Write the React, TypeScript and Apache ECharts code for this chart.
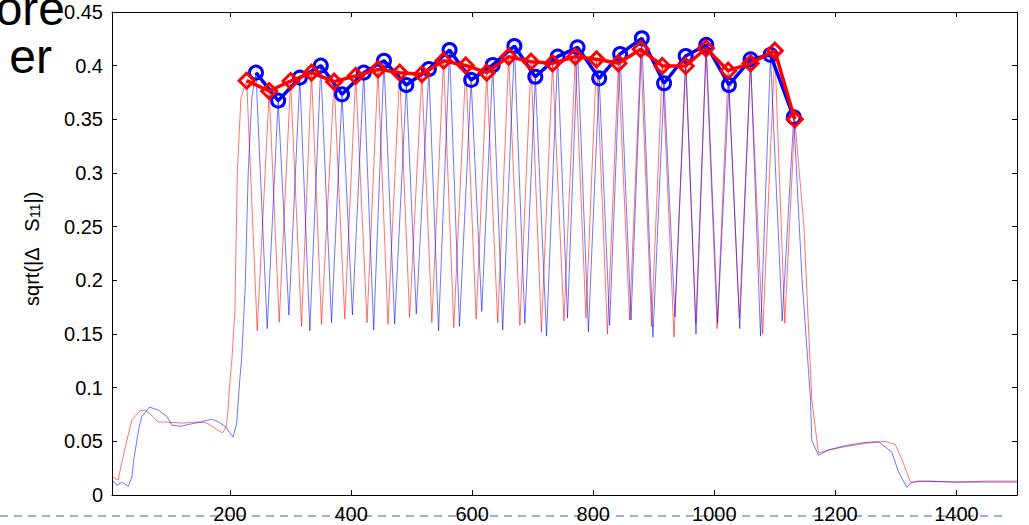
import React, { useEffect, useRef } from "react";
import * as echarts from "echarts";

// ---- axis ----
const X_MIN = 5;
const X_MAX = 1500;
const xTickValues = [200, 400, 600, 800, 1000, 1200, 1400];
const Y_MIN = 0;
const Y_MAX = 0.45;
const Y_STEP = 0.05;

// ---- red trace ----
const redHeadX = [5, 15, 27, 38, 52, 60, 73, 81, 96, 122, 145, 162, 184, 188, 194, 197, 200, 203, 208, 212, 218];
const redHeadY = [0.017, 0.014, 0.045, 0.07, 0.079, 0.079, 0.073, 0.068, 0.068, 0.067, 0.068, 0.067, 0.059, 0.058, 0.064, 0.082, 0.107, 0.126, 0.171, 0.3, 0.37];
const redPeakX = [227.5, 264.7, 300.0, 334.6, 371.9, 407.6, 444.4, 480.2, 516.9, 552.7, 589.4, 624.1, 660.3, 697.2, 732.8, 770.3, 805.4, 841.6, 878.5, 914.2, 952.7, 986.2, 1022.9, 1059.9, 1099.9, 1132.9];
const redPeakY = [0.386, 0.3764, 0.3857, 0.3935, 0.3851, 0.3904, 0.3966, 0.3935, 0.392, 0.4046, 0.4002, 0.3935, 0.4084, 0.4037, 0.4022, 0.4084, 0.4059, 0.4022, 0.4153, 0.3997, 0.3997, 0.4162, 0.3953, 0.4022, 0.414, 0.35];
const redTroughX = [244.9, 281.2, 318.1, 351.1, 389.5, 426.3, 460.9, 496.6, 533.4, 569.6, 606.6, 642.2, 678.8, 714.4, 751.6, 787.9, 823.5, 860.1, 896.3, 933.4, 969.5, 1004.6, 1041.4, 1079.9, 1116.4];
const redTroughY = [0.153, 0.161, 0.157, 0.159, 0.164, 0.1605, 0.159, 0.1656, 0.1605, 0.156, 0.164, 0.1605, 0.158, 0.152, 0.162, 0.165, 0.15, 0.163, 0.157, 0.147, 0.16, 0.155, 0.165, 0.15, 0.16];
const redTailX = [1148, 1161, 1172, 1189, 1216, 1249, 1282, 1299, 1310, 1324, 1354, 1400, 1450, 1500];
const redTailY = [0.25, 0.089, 0.039, 0.042, 0.045, 0.048, 0.05, 0.047, 0.033, 0.012, 0.013, 0.012, 0.013, 0.013];

// ---- blue trace ----
const blueHeadX = [5, 13, 21, 32, 38, 41, 49, 54, 67, 82, 96, 104, 118, 134, 151, 170, 181, 192, 205, 211, 216, 219, 225, 230, 236];
const blueHeadY = [0.014, 0.009, 0.012, 0.008, 0.017, 0.033, 0.061, 0.073, 0.082, 0.079, 0.073, 0.065, 0.064, 0.066, 0.068, 0.0705, 0.068, 0.064, 0.054, 0.067, 0.107, 0.126, 0.193, 0.3, 0.37];
const bluePeakX = [242.8, 279.5, 315.3, 349.9, 385.0, 420.8, 454.3, 491.2, 528.5, 562.6, 598.3, 633.9, 669.7, 704.3, 741.1, 774.0, 809.8, 844.4, 880.2, 917.0, 952.7, 986.7, 1024.1, 1059.9, 1092.8, 1131.2];
const bluePeakY = [0.3935, 0.3674, 0.3888, 0.4, 0.3733, 0.3935, 0.4046, 0.382, 0.3969, 0.4146, 0.3867, 0.4006, 0.4183, 0.3897, 0.4084, 0.4171, 0.3882, 0.4109, 0.4255, 0.3836, 0.409, 0.4193, 0.382, 0.4059, 0.41, 0.3519];
const blueTroughX = [261.4, 297.2, 331.8, 367.6, 402.2, 437.3, 471.9, 507.7, 544.4, 579.0, 615.8, 650.4, 687.0, 722.8, 757.5, 792.0, 827.1, 862.4, 898.6, 934.9, 969.7, 1005.5, 1042.0, 1076.3, 1112.1];
const blueTroughY = [0.155, 0.1677, 0.153, 0.1605, 0.1677, 0.1537, 0.159, 0.1686, 0.153, 0.157, 0.171, 0.1537, 0.16, 0.148, 0.165, 0.152, 0.158, 0.163, 0.147, 0.166, 0.15, 0.16, 0.155, 0.148, 0.162];
const blueTailX = [1145, 1159, 1161, 1172, 1189, 1216, 1249, 1271, 1293, 1304, 1318, 1324, 1337, 1400, 1450, 1500];
const blueTailY = [0.2, 0.088, 0.051, 0.037, 0.042, 0.046, 0.049, 0.0497, 0.04, 0.022, 0.007, 0.011, 0.013, 0.012, 0.012, 0.012];

function zip(xs: number[], ys: number[]): [number, number][] {
  return xs.map((x, i) => [x, ys[i]] as [number, number]);
}

function buildTrace(hx: number[], hy: number[], px: number[], py: number[], tx: number[], ty: number[], ex: number[], ey: number[]) {
  const out: [number, number][] = zip(hx, hy);
  for (let i = 0; i < px.length; i++) {
    out.push([px[i], py[i]]);
    if (i < tx.length) out.push([tx[i], ty[i]]);
  }
  return out.concat(zip(ex, ey));
}

const FONT = "'Liberation Sans', Arial, Helvetica, sans-serif";

export default function App() {
  const ref = useRef<HTMLDivElement>(null);
  useEffect(() => {
    if (!ref.current) return;
    const chart = echarts.init(ref.current, undefined, { renderer: "svg" });
    const redTrace = buildTrace(redHeadX, redHeadY, redPeakX, redPeakY, redTroughX, redTroughY, redTailX, redTailY);
    const blueTrace = buildTrace(blueHeadX, blueHeadY, bluePeakX, bluePeakY, blueTroughX, blueTroughY, blueTailX, blueTailY);

    const baseX = {
      type: "value" as const,
      min: X_MIN,
      max: X_MAX,
      splitLine: { show: false },
      axisLine: { show: true, onZero: false, lineStyle: { color: "#000", width: 1 } },
      axisTick: { show: true, inside: true, length: 5, customValues: xTickValues, lineStyle: { color: "#000" } },
    };
    const baseY = {
      type: "value" as const,
      min: Y_MIN,
      max: Y_MAX,
      interval: Y_STEP,
      splitLine: { show: false },
      axisLine: { show: true, onZero: false, lineStyle: { color: "#000", width: 1 } },
      axisTick: { show: true, inside: true, length: 5, lineStyle: { color: "#000" } },
    };

    chart.setOption({
      animation: false,
      backgroundColor: "#fff",
      grid: { left: 112, right: 12, top: 12, bottom: 30, containLabel: false },
      xAxis: [
        {
          ...baseX,
          position: "bottom",
          axisLabel: {
            show: true,
            customValues: xTickValues,
            fontSize: 20,
            color: "#000",
            fontFamily: FONT,
            margin: 9,
            formatter: (v: number) => String(v),
          },
        },
        { ...baseX, position: "top", axisLabel: { show: false } },
      ],
      yAxis: [
        {
          ...baseY,
          position: "left",
          axisLabel: {
            show: true,
            fontSize: 20,
            color: "#000",
            fontFamily: FONT,
            margin: 9,
            formatter: (v: number) => String(Math.round(v * 100) / 100),
          },
        },
        { ...baseY, position: "right", axisLabel: { show: false } },
      ],
      graphic: [
        {
          type: "line",
          z: 0,
          shape: { x1: 0, y1: 516, x2: 1003, y2: 516 },
          style: { stroke: "#9fb3c8", lineWidth: 2, lineDash: [8, 6] },
        },
        {
          type: "text",
          x: 65,
          y: 8,
          style: { text: "ore", font: `48px ${FONT}`, fill: "#000", align: "right", verticalAlign: "middle" },
        },
        {
          type: "text",
          x: 52,
          y: 56,
          style: { text: "er", font: `48px ${FONT}`, fill: "#000", align: "right", verticalAlign: "middle" },
        },
        {
          type: "text",
          x: 29,
          y: 249,
          rotation: Math.PI / 2,
          style: {
            text: "{a|sqrt(|Δ   S}{b|11}{a||)}",
            align: "center",
            verticalAlign: "middle",
            fill: "#000",
            rich: {
              a: { fontSize: 20, fontFamily: FONT, fill: "#000", lineHeight: 26, verticalAlign: "bottom" },
              b: { fontSize: 14, fontFamily: FONT, fill: "#000", lineHeight: 15, verticalAlign: "bottom" },
            },
          },
        },
      ],
      series: [
        {
          type: "line",
          data: redTrace,
          showSymbol: false,
          symbol: "none",
          lineStyle: { color: "#ff0000", width: 1, opacity: 0.55 },
          z: 2,
        },
        {
          type: "line",
          data: blueTrace,
          showSymbol: false,
          symbol: "none",
          lineStyle: { color: "#0000ff", width: 1, opacity: 0.55 },
          z: 3,
        },
        {
          type: "line",
          data: zip(bluePeakX, bluePeakY),
          symbol: "circle",
          symbolSize: 13,
          showAllSymbol: true,
          itemStyle: { color: "rgba(255,255,255,0)", borderColor: "#0000ff", borderWidth: 3 },
          lineStyle: { color: "#0000ff", width: 3.5 },
          z: 4,
        },
        {
          type: "line",
          data: zip(redPeakX, redPeakY),
          symbol: "diamond",
          symbolSize: 15,
          showAllSymbol: true,
          itemStyle: { color: "rgba(255,255,255,0)", borderColor: "#ff0000", borderWidth: 3 },
          lineStyle: { color: "#ff0000", width: 3.5 },
          z: 5,
        },
      ],
    });
    return () => chart.dispose();
  }, []);
  return <div ref={ref} style={{ position: "fixed", left: 0, top: 0, width: 1029, height: 525 }} />;
}
